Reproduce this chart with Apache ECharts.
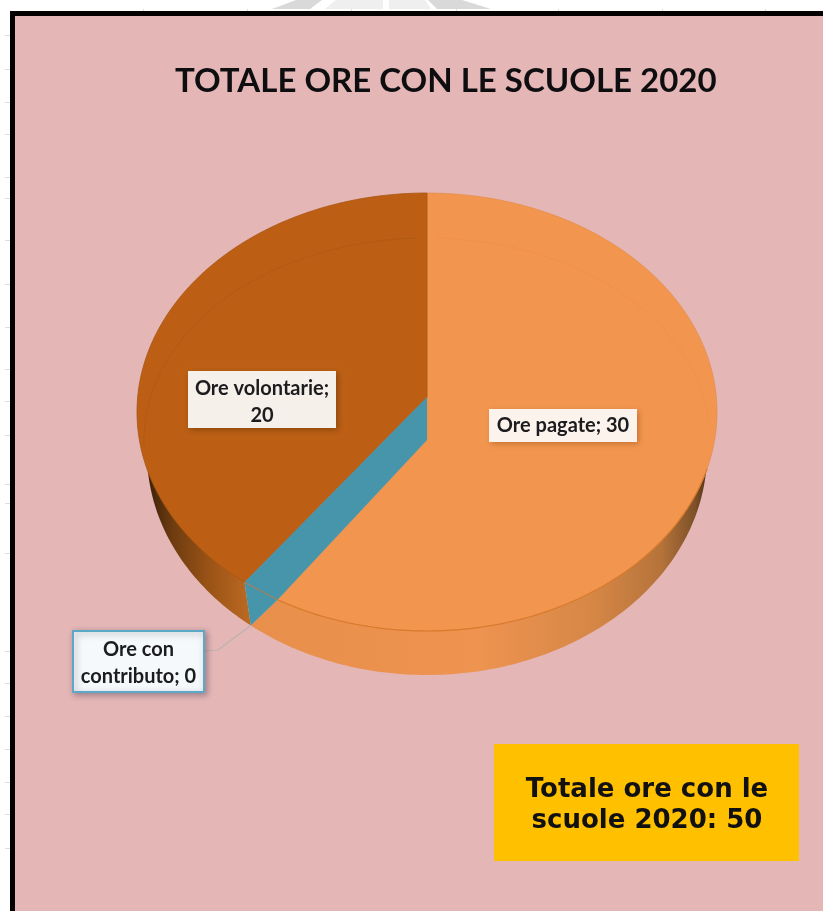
<!DOCTYPE html>
<html>
<head>
<meta charset="utf-8">
<style>html,body{margin:0;padding:0;background:#fff}#c{width:823px;height:911px}</style>
<script src="https://cdn.jsdelivr.net/npm/echarts@6/dist/echarts.min.js"></script>
</head>
<body>
<div id="c"></div>
<script>
const chartTitle = 'TOTALE ORE CON LE SCUOLE 2020';
const categories = ['Ore pagate', 'Ore con contributo', 'Ore volontarie'];
const values = [30, 0, 20];
const totalLabel = 'Totale ore con le\nscuole 2020: 50';
const topColors = ['#F2964F', '#4795AB', '#BC5F15'];

const TOP = {cx: 427, cy: 412, rx: 290, ry: 219};
const BOT = {cx: 427, cy: 453, rx: 280, ry: 222};
const P = (e, deg) => {
  const t = deg * Math.PI / 180;
  return [e.cx + e.rx * Math.sin(t), e.cy - e.ry * Math.cos(t)];
};
const arc = (e, a, b) => {
  const pts = [], n = Math.max(2, Math.ceil(Math.abs(b - a)));
  for (let i = 0; i <= n; i++) pts.push(P(e, a + (b - a) * i / n));
  return pts;
};
const grad = stops => new echarts.graphic.LinearGradient(0, 0, 1, 0,
  stops.map(s => ({offset: s[0], color: s[1]})));
const total = values.reduce((a, b) => a + b, 0);

const labelBoxes = [
  {x: 489, y: 409, w: 148, h: 33, dy: 0, fill: '#FBF3EC', stroke: null, shadow: 'rgba(120,50,0,0.35)',
   text: i => categories[i] + '; ' + values[i]},
  {x: 73, y: 631, w: 131, h: 61, dy: 2, fill: '#F5F9FB', stroke: '#5BA9C6', shadow: 'rgba(70,60,80,0.45)',
   text: i => 'Ore con\ncontributo; ' + values[i]},
  {x: 188, y: 371, w: 148, h: 57, dy: 3, fill: '#F6F0EB', stroke: null, shadow: 'rgba(70,30,0,0.4)',
   text: i => 'Ore volontarie;\n' + values[i]}
];

function renderSlice(params, api) {
  const i = params.dataIndex, v = api.value(0);
  const before = values.slice(0, i).reduce((a, b) => a + b, 0);
  const a0 = before / total * 360, a1 = (before + v) / total * 360;
  const kids = [];
  if (v === 0) {
    // zero-value slice: only its cut wall shows, between its neighbours
    const rimA = P(TOP, a0 + 3), rimB = P(TOP, a0 - 5), foot = P(BOT, a0 + 3);
    kids.push({type: 'polygon', z2: 5,
      shape: {points: [[TOP.cx, 397], rimA, foot, rimB, [TOP.cx, 440]]},
      style: {fill: topColors[i]}});
    kids.push({type: 'line', z2: 6,
      shape: {x1: rimA[0], y1: rimA[1], x2: rimB[0], y2: rimB[1]},
      style: {stroke: '#C9793A', lineWidth: 1.2, opacity: 0.7}});
    // leader
    kids.push({type: 'polyline', z2: 6,
      shape: {points: [[204, 651], [218, 650], foot]},
      style: {stroke: '#BBB3AE', lineWidth: 1.2, fill: null}});
  } else if (a0 === 0) {
    const end = a1 + 3;
    kids.push({type: 'polygon', z2: 1,
      shape: {points: arc(BOT, 60, end).concat([P(TOP, a1 - 5)])},
      style: {fill: grad([[0, '#E88F4C'], [0.5, '#EE9350'], [0.75, '#D68746'], [0.9, '#B5733A'], [0.975, '#7C5028'], [1, '#4E3418']])}});
    kids.push({type: 'polygon', z2: 3,
      shape: {points: [[TOP.cx, 440]].concat(arc(TOP, a0, a1 - 5))},
      style: {fill: topColors[i], stroke: '#E08A45', lineWidth: 0.6}});
    kids.push({type: 'polyline', z2: 4,
      shape: {points: arc(TOP, 105, a1 - 5)},
      style: {stroke: '#D97B2E', lineWidth: 1.2, fill: null}});
    kids.push({type: 'polyline', z2: 4,
      shape: {points: arc({cx: 427, cy: 440, rx: 283, ry: 202}, 2, 85)},
      style: {stroke: '#EF9149', lineWidth: 1, fill: null}});
  } else {
    kids.push({type: 'polygon', z2: 1,
      shape: {points: arc(BOT, a0 + 3, 300).concat([P(TOP, a0 + 3)])},
      style: {fill: grad([[0, '#3B2108'], [0.25, '#6E3C10'], [0.6, '#9A5316'], [1, '#BC6A22']])}});
    kids.push({type: 'polygon', z2: 3,
      shape: {points: [[TOP.cx, 397]].concat(arc(TOP, a0 + 3, a1))},
      style: {fill: topColors[i], stroke: '#A95610', lineWidth: 0.8}});
    kids.push({type: 'polyline', z2: 4,
      shape: {points: arc({cx: 427, cy: 440, rx: 283, ry: 202}, 268, 358)},
      style: {stroke: '#B35A13', lineWidth: 1, fill: null}});
  }
  const b = labelBoxes[i];
  kids.push({type: 'rect', z2: 20,
    shape: {x: b.x, y: b.y, width: b.w, height: b.h},
    style: {fill: b.fill, stroke: b.stroke, lineWidth: b.stroke ? 2 : 0,
      shadowBlur: 6, shadowColor: b.shadow, shadowOffsetX: 2, shadowOffsetY: 2}});
  kids.push({type: 'text', z2: 21,
    style: {x: b.x + b.w / 2, y: b.y + b.h / 2 + b.dy, text: b.text(i), fill: '#1c1c1e',
      font: '700 20px Lato', lineHeight: 27, align: 'center', verticalAlign: 'middle'}});
  return {type: 'group', children: kids};
}

const deco = [];
const leftTicks = [35,69,102,134,177,198,240,284,327,369,401,435,484,503,553,651,683,716,749,782,814,848];
const topTicks = [143,247,351,456,558,662,765];
leftTicks.forEach(y => deco.push({type: 'rect', shape: {x: 5, y: y, width: 5, height: 1}, style: {fill: '#DEDEDE'}, silent: true}));
topTicks.forEach(x => deco.push({type: 'rect', shape: {x: x, y: 9, width: 1, height: 2}, style: {fill: '#DEDEDE'}, silent: true}));
[[[272,9],[296,0],[322,0],[310,9],[272,9]], [[325,9],[336,0],[383,0],[383,9]], [[389,9],[389,0],[425,0],[431,9]],
 [[437,9],[428,0],[462,0],[491,9]]].forEach((pts, k) => deco.push({
  type: 'polygon', shape: {points: pts}, style: {fill: k === 0 || k === 3 ? '#D9D9D9' : '#EFEFEF'}, silent: true}));
deco.push({type: 'rect', z: -1, shape: {x: 12.5, y: 13.5, width: 830, height: 920},
  style: {fill: '#E4B6B6', stroke: '#050000', lineWidth: 5}, silent: true});
deco.push({type: 'rect', z: 5, shape: {x: 494, y: 744, width: 305, height: 117},
  style: {fill: '#FFC000'}, silent: true});
deco.push({type: 'text', z: 6, style: {x: 647, y: 805.5, text: totalLabel, fill: '#111111',
  font: '700 26px "DejaVu Sans"', lineHeight: 31, align: 'center', verticalAlign: 'middle'}, silent: true});

const chart = echarts.init(document.getElementById('c'), null, {renderer: 'canvas'});
chart.setOption({
  animation: false,
  backgroundColor: '#FFFFFF',
  title: {text: chartTitle, left: 170, top: 60,
    textStyle: {fontFamily: 'Lato', fontWeight: 700, fontSize: 33, color: '#0E0E10'}},
  graphic: {elements: deco},
  series: [{
    type: 'custom',
    coordinateSystem: 'none',
    silent: true,
    renderItem: renderSlice,
    data: values
  }]
});
</script>
</body>
</html>
